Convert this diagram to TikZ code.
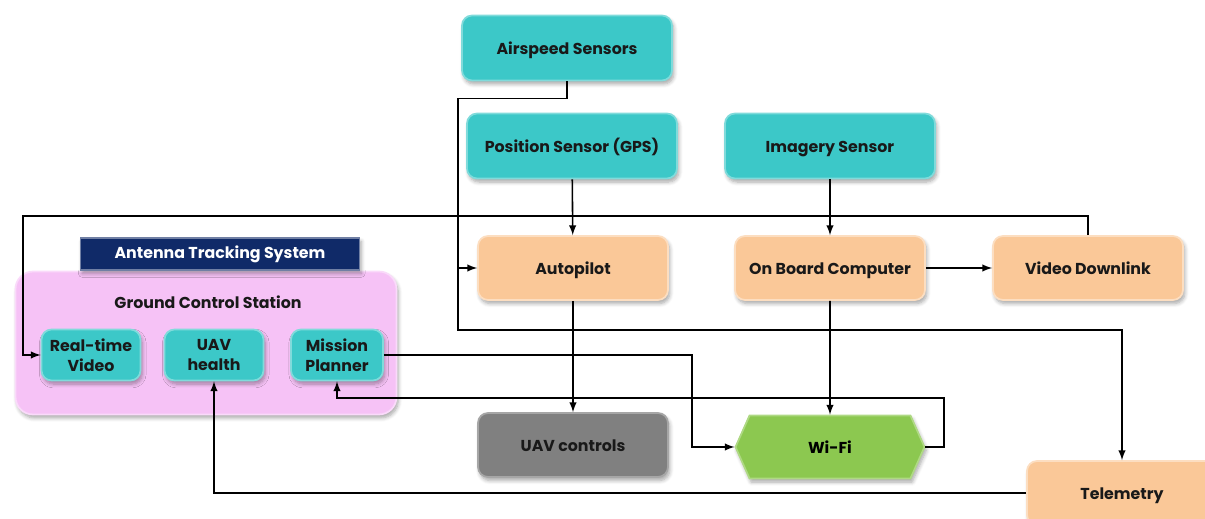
\documentclass[tikz,border=0pt]{standalone}
\usepackage{fontspec}
\setmainfont{Poppins}
\usetikzlibrary{shapes.symbols,shadows.blur,arrows}
\definecolor{sensorteal}{RGB}{60,200,200}
\definecolor{unitpeach}{RGB}{250,200,152}
\definecolor{ctrlgray}{RGB}{128,128,128}
\definecolor{linkgreen}{RGB}{140,200,80}
\definecolor{gcspink}{RGB}{246,194,246}
\definecolor{atsnavy}{RGB}{16,42,104}
\tikzstyle{boxshadow} = [blur shadow={shadow xshift=1pt, shadow yshift=-2pt,
		shadow blur steps=6, shadow opacity=35}]
\tikzstyle{sensor} = [shape=rectangle, rounded corners=0.2cm,
		fill=sensorteal, draw=sensorteal!65!white, line width=1pt,
		minimum width=4.2cm, minimum height=1.3cm, align=center,
		text height=1.6ex, text depth=0.3ex,
		font=\bfseries\fontsize{9}{10}\selectfont, text=black!90, boxshadow]
\tikzstyle{unit} = [sensor, fill=unitpeach, draw=unitpeach!60!white,
		minimum width=3.8cm, minimum height=1.28cm]
\tikzstyle{gcsbox} = [sensor, minimum width=1.98cm, minimum height=1.02cm,
		text height=, text depth=,
		font=\bfseries\fontsize{9}{11.5}\selectfont]
\tikzstyle{conn} = [>=latex, ->, line width=0.9pt]

\begin{document}
\begin{tikzpicture}[x=0.02cm, y=-0.02cm]
	\useasboundingbox (0,0) rectangle (1205,519);
	\clip (0,0) rectangle (1205,519);

	% sensors
	\node[sensor] (air) at (567,48) {Airspeed Sensors};
	\node[sensor] (gps) at (572,146) {Position Sensor (GPS)};
	\node[sensor] (img) at (830,146) {Imagery Sensor};

	% on board units
	\node[unit] (auto) at (573,268) {Autopilot};
	\node[unit] (obc) at (830,268) {On Board Computer};
	\node[unit] (vid) at (1088,268) {Video Downlink};
	\node[unit, fill=ctrlgray, draw=ctrlgray!70!white] (ctrl) at (573,445) {UAV controls};
	\node[unit] (tele) at (1122,493) {Telemetry};
	\node[signal, signal to=east and west, signal pointer angle=132,
		fill=linkgreen, draw=linkgreen!70!white, line width=1pt,
		minimum width=3.78cm, minimum height=1.26cm,
		text height=1.6ex, text depth=0.3ex,
		font=\bfseries\fontsize{9}{10}\selectfont, boxshadow] (wifi) at (830,447) {Wi-Fi};

	% ground control station
	\node[shape=rectangle, rounded corners=0.35cm, fill=gcspink, draw=gcspink!60!white,
		line width=1pt, minimum width=7.62cm, minimum height=2.86cm, boxshadow]
		(gcs) at (206,343) {};
	\node[font=\bfseries\fontsize{9}{10}\selectfont, text=black!90] (gcstitle) at (208,302) {Ground Control Station};
	\node[shape=rectangle, fill=atsnavy, draw=atsnavy!60!white, line width=1pt,
		minimum width=5.58cm, minimum height=0.64cm, text=white,
		font=\bfseries\fontsize{9}{10}\selectfont, boxshadow] (ats) at (220,254) {Antenna Tracking System};
	\node[gcsbox] (rtv) at (91,355) {Real-time\\Video};
	\node[gcsbox] (uavh) at (214,355) {UAV\\health};
	\node[gcsbox, minimum width=1.84cm] (mp) at (337,355) {Mission\\Planner};

	% connectors
	\coordinate (airbus) at (458,330);
	\coordinate (vidbend) at (23,216);
	\coordinate (mpbend) at (692,400);
	\coordinate (wifiloop) at (944,398);
	\draw[conn] (air.south) -- ++(0,17) -| (airbus) -| (tele.north);
	\draw[conn] (airbus |- auto.west) -- (auto.west);
	\path [conn] (gps) edge (auto);
	\path [conn] (img) edge (obc);
	\path [conn] (obc) edge (vid);
	\path [conn] (auto) edge (ctrl);
	\path [conn] (obc) edge (wifi);
	\draw[conn] (vid.north) |- (vidbend) |- (rtv.west);
	\draw[conn] (mp.east) -| (mpbend) |- (wifi.west);
	\draw[conn] (wifi.east) -| (wifiloop) -| (mp.south);
	\draw[conn] (tele.west) -| (uavh.south);
\end{tikzpicture}
\end{document}
